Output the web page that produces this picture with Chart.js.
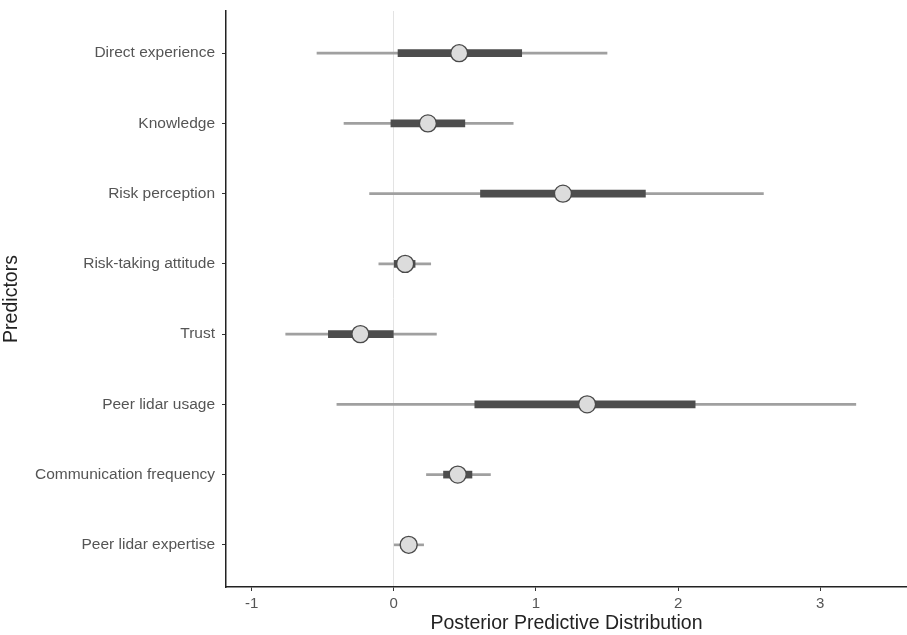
<!DOCTYPE html>
<html>
<head>
<meta charset="utf-8">
<script src="https://cdn.jsdelivr.net/npm/chart.js@4"></script>
<style>
  html, body { margin: 0; padding: 0; background: #fff; overflow: hidden; }
  canvas { display: block; }
</style>
</head>
<body>
<canvas id="forestChart" width="907" height="635"></canvas>
<script>
// predictors, top to bottom
const predictors = ["Direct experience", "Knowledge", "Risk perception", "Risk-taking attitude",
  "Trust", "Peer lidar usage", "Communication frequency", "Peer lidar expertise"];
const medians = [0.46, 0.24, 1.19, 0.08, -0.235, 1.36, 0.45, 0.105];
// thick (inner) interval
const innerLo = [0.03, -0.02, 0.61, 0.00, -0.46, 0.57, 0.35, 0.05];
const innerHi = [0.90, 0.50, 1.77, 0.15, 0.00, 2.12, 0.55, 0.16];
// thin (outer) interval
const outerLo = [-0.54, -0.35, -0.17, -0.105, -0.76, -0.40, 0.23, 0.00];
const outerHi = [1.50, 0.84, 2.60, 0.26, 0.30, 3.25, 0.68, 0.21];
const xTicks = [-1, 0, 1, 2, 3];

const n = predictors.length;
const rowPos = i => n - i; // first predictor on top

const font = "'Liberation Sans', Arial, Helvetica, sans-serif";

document.addEventListener("DOMContentLoaded", () => {
  const ctx = document.getElementById("forestChart").getContext("2d");
  new Chart(ctx, {
    type: "bar",
    data: {
      datasets: [
        {
          type: "bar",
          label: "outer",
          data: predictors.map((p, i) => ({ x: [outerLo[i], outerHi[i]], y: rowPos(i) })),
          backgroundColor: "#a0a0a0",
          barThickness: 2,
          grouped: false,
          order: 3
        },
        {
          type: "bar",
          label: "inner",
          data: predictors.map((p, i) => ({ x: [innerLo[i], innerHi[i]], y: rowPos(i) })),
          backgroundColor: "#4d4d4d",
          barThickness: 7,
          grouped: false,
          order: 2
        },
        {
          type: "scatter",
          label: "median",
          data: predictors.map((p, i) => ({ x: medians[i], y: rowPos(i) })),
          pointRadius: 8.5,
          pointBorderWidth: 1.4,
          pointBackgroundColor: "#dcdcdc",
          pointBorderColor: "#4a4a4a",
          order: 1
        }
      ]
    },
    options: {
      indexAxis: "y",
      responsive: false,
      animation: false,
      layout: { autoPadding: false, padding: { top: 11, right: 0, bottom: 0, left: 0 } },
      plugins: { legend: { display: false }, tooltip: { enabled: false } },
      scales: {
        x: {
          type: "linear",
          min: -1.18,
          max: 3.61,
          afterBuildTicks: s => { s.ticks = xTicks.map(v => ({ value: v })); },
          afterFit: s => { s.height = 48; s.paddingLeft = 0; s.paddingRight = 0; },
          grid: {
            color: c => (c.tick && c.tick.value === 0 ? "#e3e3e3" : "rgba(0,0,0,0)"),
            tickColor: "#333",
            tickLength: 4,
            lineWidth: 1
          },
          border: { display: true, color: "#222", width: 1.5 },
          ticks: { color: "#555", font: { family: font, size: 15 }, padding: 4 },
          title: {
            display: true,
            text: "Posterior Predictive Distribution",
            color: "#222",
            font: { family: font, size: 19.5 },
            padding: { top: 0, bottom: 0 }
          }
        },
        y: {
          type: "linear",
          offset: false,
          min: 0.4,
          max: n + 0.6,
          afterBuildTicks: s => { s.ticks = predictors.map((p, i) => ({ value: rowPos(i) })); },
          afterFit: s => { s.width = 226; s.paddingTop = 0; s.paddingBottom = 0; },
          grid: {
            offset: false,
            color: "rgba(0,0,0,0)",
            tickColor: "#333",
            tickLength: 4
          },
          border: { display: true, color: "#222", width: 1.5 },
          ticks: {
            color: "#555",
            font: { family: font, size: 15.5 },
            padding: 7,
            callback: v => predictors[n - v]
          },
          title: {
            display: true,
            text: "Predictors",
            color: "#222",
            font: { family: font, size: 19.5 },
            padding: { top: 0, bottom: 2 }
          }
        }
      }
    }
  });
});
</script>
</body>
</html>
